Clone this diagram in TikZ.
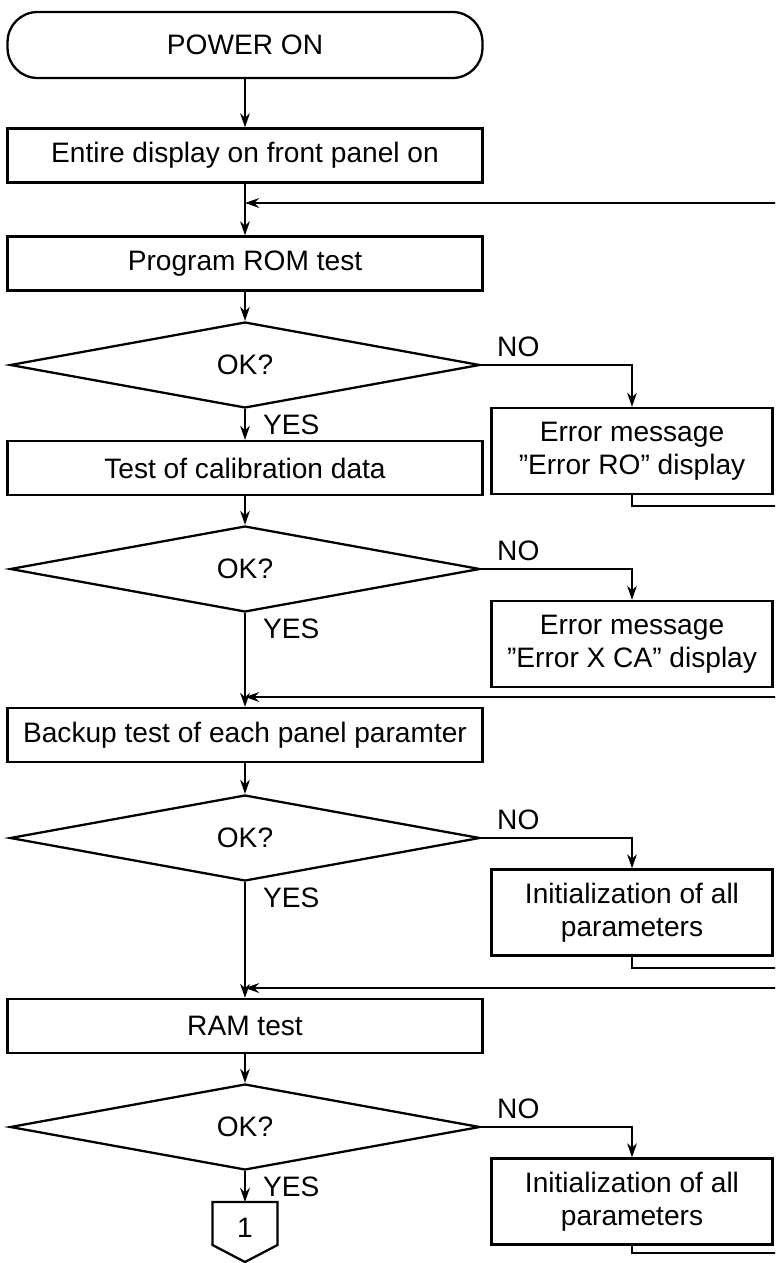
\documentclass[tikz,border=0pt]{standalone}
\usepackage{fontspec}
\setmainfont{Liberation Sans}
\usetikzlibrary{shapes.geometric,arrows.meta}

\begin{document}
\begin{tikzpicture}[x=0.02cm, y=-0.02cm, line width=1.3pt,
    >={Stealth[length=8pt,width=5.5pt]},
    every node/.style={font=\fontsize{16}{18.5}\selectfont},
    stepbox/.style={draw, rectangle, minimum width=9.5cm, minimum height=1.08cm, inner sep=0pt},
    errbox/.style={draw, rectangle, minimum width=5.62cm, minimum height=1.72cm, align=center, inner sep=0pt},
    okdia/.style={draw, diamond, aspect=5, minimum width=9.4cm, minimum height=1.72cm, inner sep=0pt},
    lbl/.style={inner sep=0pt}]

    % Page frame (the return lines run off the right edge)
    \useasboundingbox (0,0) rectangle (775,1263);
    \clip (0,0) rectangle (775,1263);

    % Start
    \node[draw, rounded corners=0.6cm, minimum width=9.5cm, minimum height=1.32cm] (start) at (245,45) {POWER ON};

    % Main column
    \node[stepbox] (panel) at (245,155.5) {Entire display on front panel on};
    \node[stepbox] (rom) at (245,263.5) {Program ROM test};
    \node[okdia] (okrom) at (245,365) {OK?};
    \node[stepbox] (calib) at (245,468) {Test of calibration data};
    \node[okdia] (okcal) at (245,569) {OK?};
    \node[stepbox] (backup) at (245,735) {Backup test of each panel paramter};
    \node[okdia] (okbak) at (245,838) {OK?};
    \node[stepbox] (ram) at (245,1026) {RAM test};
    \node[okdia] (okram) at (245,1127) {OK?};

    % Error branch
    \node[errbox] (errrom) at (632,451) {Error message\\”Error RO” display};
    \node[errbox] (errcal) at (632,644) {Error message\\”Error X CA” display};
    \node[errbox] (initbak) at (632,912.5) {Initialization of all\\parameters};
    \node[errbox] (initram) at (632,1201.5) {Initialization of all\\parameters};

    % Off-page connector
    \coordinate (pagetop) at (245,1202);
    \node[lbl] (page) at (245,1228) {1};
    \draw (212.5,1202) -- (277.5,1202) -- (277.5,1245) -- (245,1262) -- (212.5,1245) -- cycle;

    % Down the main column
    \draw[->] (start) -- (panel);
    \draw[->] (panel) -- (rom);
    \draw[->] (rom) -- (okrom);
    \draw[->] (okrom) -- (calib);
    \draw[->] (calib) -- (okcal);
    \draw[->] (okcal) -- (backup);
    \draw[->] (backup) -- (okbak);
    \draw[->] (okbak) -- (ram);
    \draw[->] (ram) -- (okram);
    \draw[->] (okram) -- (pagetop);

    % NO branches
    \foreach \a/\b in {okrom/errrom, okcal/errcal, okbak/initbak, okram/initram}{
        \draw[->] (\a.east) -| (\b.north);
        \node[lbl, anchor=south west] (no\a) at ([xshift=0.3cm, yshift=0.15cm]\a.east) {NO};
        \node[lbl, anchor=north west] (yes\a) at ([xshift=0.34cm, yshift=-0.1cm]\a.south) {YES};
    }

    % Return lines along the right margin
    \coordinate (back1) at (795,203);
    \coordinate (back2) at (795,697);
    \coordinate (back3) at (795,988);
    \coordinate (back4) at (795,1253);
    \draw[->] (errrom.south) -- ++(0,11) -| (back1) -- (back1 -| rom.north);
    \draw[->] (back2) -- (back2 -| backup.north);
    \draw[->] (initbak.south) -- ++(0,11) -| (back3) -- (back3 -| ram.north);
    \draw (initram.south) |- (back4);

\end{tikzpicture}
\end{document}
